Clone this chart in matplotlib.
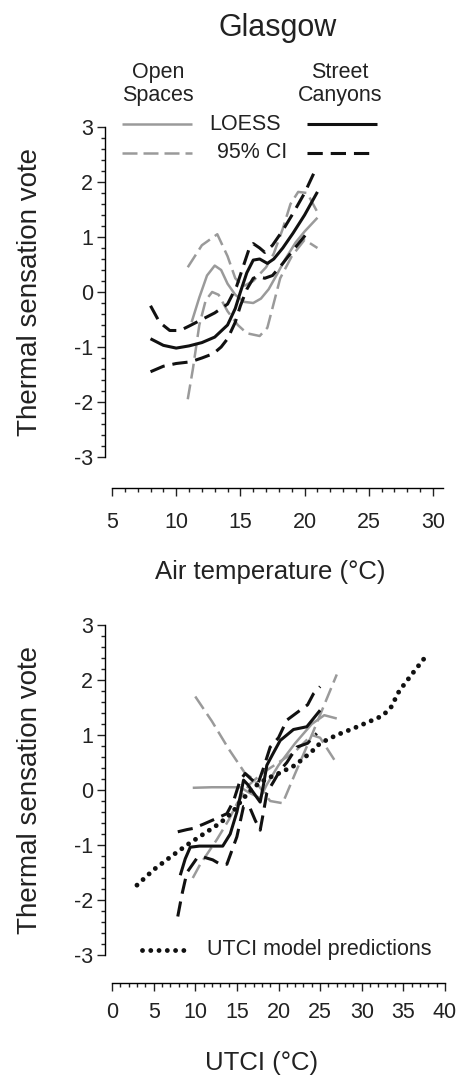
import matplotlib
matplotlib.use('Agg')
from matplotlib import pyplot as plt
from matplotlib.lines import Line2D
import numpy as np

plt.rcParams['font.family'] = ['Liberation Sans', 'DejaVu Sans']
plt.rcParams['axes.unicode_minus'] = False
plt.rcParams['text.color'] = '#222222'
plt.rcParams['axes.labelcolor'] = '#222222'
plt.rcParams['xtick.color'] = '#222222'
plt.rcParams['ytick.color'] = '#222222'

W, H = 457, 1079
GREY = '#9a9a9a'
BLACK = '#111111'

# ---- top panel: air temperature ----
ta_open_loess_x = [11.2, 11.8, 12.4, 13.0, 13.5, 14.0, 14.6, 15.3, 16.0, 16.6, 17.2, 17.8, 18.5, 19.3, 20.0, 21.0]
ta_open_loess_y = [-0.55, -0.1, 0.3, 0.48, 0.4, 0.15, -0.05, -0.18, -0.2, -0.12, 0.05, 0.3, 0.6, 0.9, 1.1, 1.35]
ta_open_up_x = [10.9, 12.0, 13.2, 14.0, 14.6, 15.2, 16.0, 17.0, 17.6, 18.3, 18.9, 19.5, 20.2, 21.0]
ta_open_up_y = [0.45, 0.85, 1.05, 0.65, 0.25, 0.1, 0.2, 0.45, 0.7, 1.15, 1.6, 1.82, 1.8, 1.45]
ta_open_lo_x = [10.9, 11.3, 11.8, 12.3, 12.8, 13.3, 14.0, 14.8, 15.5, 16.5, 17.1, 17.6, 18.1, 19.0, 20.0, 21.0]
ta_open_lo_y = [-1.95, -1.4, -0.6, -0.15, 0.0, -0.05, -0.35, -0.6, -0.75, -0.8, -0.65, -0.2, 0.25, 0.65, 0.95, 0.8]

ta_canyon_loess_x = [8.0, 9.0, 10.0, 11.0, 12.0, 13.0, 14.0, 14.6, 15.0, 15.5, 16.0, 16.5, 17.1, 17.6, 18.3, 19.1, 20.0, 21.0]
ta_canyon_loess_y = [-0.85, -0.97, -1.02, -0.98, -0.92, -0.82, -0.6, -0.3, 0.0, 0.35, 0.58, 0.6, 0.52, 0.6, 0.8, 1.07, 1.4, 1.82]
ta_canyon_up_x = [8.0, 8.7, 9.5, 10.3, 11.0, 12.0, 13.0, 14.0, 14.7, 15.2, 15.7, 16.0, 16.5, 16.9, 17.5, 18.3, 19.1, 20.0, 20.7]
ta_canyon_up_y = [-0.25, -0.55, -0.7, -0.7, -0.62, -0.5, -0.38, -0.22, 0.1, 0.45, 0.8, 0.88, 0.8, 0.72, 0.85, 1.12, 1.43, 1.8, 2.15]
ta_canyon_lo_x = [8.0, 9.0, 10.0, 11.1, 12.0, 12.9, 13.5, 14.0, 14.6, 15.0, 15.5, 16.0, 16.4, 16.9, 17.5, 18.3, 19.1, 20.4]
ta_canyon_lo_y = [-1.45, -1.35, -1.3, -1.27, -1.2, -1.12, -1.0, -0.85, -0.55, -0.25, 0.05, 0.25, 0.28, 0.25, 0.3, 0.52, 0.76, 1.13]

# ---- bottom panel: UTCI ----
ut_open_loess_x = [9.7, 12.0, 15.4, 16.5, 17.8, 18.6, 20.0, 22.0, 24.0, 25.5, 27.0]
ut_open_loess_y = [0.04, 0.05, 0.05, -0.05, -0.15, 0.1, 0.45, 0.85, 1.2, 1.36, 1.3]
ut_open_up_x = [10.0, 12.0, 14.0, 16.0, 17.0, 18.0, 19.0, 20.5, 22.0, 24.0, 25.5, 27.0]
ut_open_up_y = [1.7, 1.25, 0.75, 0.3, 0.2, 0.0, -0.2, -0.24, 0.3, 1.0, 1.55, 2.1]
ut_open_lo_x = [9.7, 10.6, 12.6, 14.0, 15.0, 16.5, 18.0, 20.0, 22.0, 24.0, 25.0, 26.7]
ut_open_lo_y = [-1.6, -1.35, -0.9, -0.55, -0.25, 0.1, 0.3, 0.5, 0.7, 1.0, 0.95, 0.55]

ut_canyon_loess_x = [8.2, 8.8, 9.4, 10.5, 12.0, 13.3, 14.2, 15.0, 15.5, 15.8, 16.3, 17.0, 17.8, 18.2, 18.6, 19.3, 20.2, 21.0, 21.8, 23.4, 24.2, 25.0]
ut_canyon_loess_y = [-1.55, -1.25, -1.04, -1.02, -1.02, -1.02, -0.8, -0.4, -0.05, 0.18, 0.1, -0.05, -0.22, 0.1, 0.45, 0.65, 0.9, 1.0, 1.1, 1.15, 1.3, 1.45]
ut_canyon_up_x = [7.9, 9.0, 9.7, 11.0, 12.5, 13.8, 14.6, 15.4, 16.0, 16.7, 17.5, 18.2, 19.0, 20.0, 21.0, 22.6, 23.5, 24.2, 25.0]
ut_canyon_up_y = [-0.76, -0.72, -0.7, -0.62, -0.52, -0.43, -0.2, 0.18, 0.3, 0.2, 0.1, 0.4, 0.78, 0.95, 1.27, 1.45, 1.55, 1.75, 1.88]
ut_canyon_lo_x = [7.9, 8.4, 9.0, 10.2, 11.0, 12.1, 13.0, 13.8, 14.4, 15.0, 15.8, 16.5, 17.2, 17.8, 18.2, 18.6, 19.4, 20.2, 21.0, 22.2, 23.5, 24.6]
ut_canyon_lo_y = [-2.3, -1.9, -1.5, -1.24, -1.22, -1.27, -1.35, -1.35, -1.1, -0.85, -0.3, -0.3, -0.55, -0.73, -0.4, -0.05, 0.15, 0.36, 0.5, 0.78, 0.85, 1.03]

utci_model_x = [3.0, 5.0, 7.0, 9.0, 11.0, 13.0, 14.5, 15.5, 17.0, 18.5, 20.0, 22.0, 24.0, 25.0, 27.0, 29.0, 31.0, 32.5, 33.5, 34.5, 36.0, 37.8]
utci_model_y = [-1.73, -1.45, -1.22, -1.0, -0.8, -0.6, -0.4, -0.2, 0.05, 0.2, 0.3, 0.45, 0.7, 0.85, 1.0, 1.12, 1.25, 1.35, 1.5, 1.8, 2.1, 2.45]

yticks = [-3, -2, -1, 0, 1, 2, 3]
xticks_ta = [5, 10, 15, 20, 25, 30]
xticks_ut = [0, 5, 10, 15, 20, 25, 30, 35, 40]

solid_grey = dict(color=GREY, lw=1.8, solid_capstyle='butt', solid_joinstyle='round')
dash_grey = dict(color=GREY, lw=1.8, linestyle=(0, (6, 2.4)), dash_joinstyle='round')
solid_black = dict(color=BLACK, lw=2.2, solid_capstyle='butt', solid_joinstyle='round')
dash_black = dict(color=BLACK, lw=2.2, linestyle=(0, (5, 2.6)), dash_joinstyle='round')
dotted = dict(color=BLACK, lw=3.5, linestyle=(0, (0.001, 1.7)), dash_capstyle='round')


def fx(px):
    return px / W


def fy(py):
    return 1 - py / H


def style_axis(ax, xticks, xbounds, label_pad):
    for s in ['top', 'right']:
        ax.spines[s].set_visible(False)
    ax.spines['left'].set_bounds(-3, 3)
    ax.spines['bottom'].set_bounds(*xbounds)
    ax.spines['left'].set_linewidth(1.0)
    ax.spines['bottom'].set_linewidth(1.0)
    ax.set_yticks(yticks)
    ax.set_yticks(np.arange(-3, 3.01, 0.2), minor=True)
    ax.set_xticks(xticks)
    ax.set_xticks(np.arange(xticks[0], xticks[-1] + 0.01, 1), minor=True)
    ax.tick_params(axis='y', which='major', length=6, width=1, pad=2.5, labelsize=15.5)
    ax.tick_params(axis='y', which='minor', length=3, width=1)
    ax.tick_params(axis='x', which='major', length=6, width=1, pad=label_pad, labelsize=15.5)
    ax.tick_params(axis='x', which='minor', length=3, width=1)


fig = plt.figure(figsize=(W / 100, H / 100), dpi=100)

# top axes: x=5 at px 112, 12.84 px/unit ; y=0 at py 292, 55 px/unit
ax1 = fig.add_axes([fx(105), fy(488), fx(450) - fx(105), (488 - 60) / H])
ax1.set_xlim(5 - 7 / 12.84, 5 + (450 - 112) / 12.84)
ax1.set_ylim((292 - 488) / 55, (292 - 60) / 55)
ax1.plot(ta_open_loess_x, ta_open_loess_y, **solid_grey)
ax1.plot(ta_open_up_x, ta_open_up_y, **dash_grey)
ax1.plot(ta_open_lo_x, ta_open_lo_y, **dash_grey)
ax1.plot(ta_canyon_loess_x, ta_canyon_loess_y, **solid_black)
ax1.plot(ta_canyon_up_x, ta_canyon_up_y, **dash_black)
ax1.plot(ta_canyon_lo_x, ta_canyon_lo_y, **dash_black)
style_axis(ax1, xticks_ta, (5, 30.75), 11)

# bottom axes: x=0 at px 112, 8.325 px/unit ; y=0 at py 790
ax2 = fig.add_axes([fx(105), fy(983), fx(450) - fx(105), (983 - 600) / H])
ax2.set_xlim(-7 / 8.325, (450 - 112) / 8.325)
ax2.set_ylim((790 - 983) / 55, (790 - 600) / 55)
ax2.plot(ut_open_loess_x, ut_open_loess_y, **solid_grey)
ax2.plot(ut_open_up_x, ut_open_up_y, **dash_grey)
ax2.plot(ut_open_lo_x, ut_open_lo_y, **dash_grey)
ax2.plot(ut_canyon_loess_x, ut_canyon_loess_y, **solid_black)
ax2.plot(ut_canyon_up_x, ut_canyon_up_y, **dash_black)
ax2.plot(ut_canyon_lo_x, ut_canyon_lo_y, **dash_black)
ax2.plot(utci_model_x, utci_model_y, **dotted)
style_axis(ax2, xticks_ut, (0, 40), 7.5)

# titles and labels
fig.text(fx(278), fy(28), 'Glasgow', ha='center', va='center', fontsize=22)
fig.text(fx(30), fy(292), 'Thermal sensation vote', rotation=90, ha='center', va='center', fontsize=20)
fig.text(fx(30), fy(790), 'Thermal sensation vote', rotation=90, ha='center', va='center', fontsize=20)
fig.text(fx(270), fy(572), 'Air temperature (°C)', ha='center', va='center', fontsize=18.5)
fig.text(fx(262), fy(1063), 'UTCI (°C)', ha='center', va='center', fontsize=18.5)

# legend, top panel
fig.text(fx(158), fy(84), 'Open\nSpaces', ha='center', va='center', fontsize=15.5, linespacing=1.1)
fig.text(fx(340), fy(84), 'Street\nCanyons', ha='center', va='center', fontsize=15.5, linespacing=1.1)
fig.text(fx(245), fy(124), 'LOESS', ha='center', va='center', fontsize=15.5)
fig.text(fx(252), fy(153), '95% CI', ha='center', va='center', fontsize=15.5)
fig.add_artist(Line2D([fx(122), fx(192)], [fy(124), fy(124)], **solid_grey))
fig.add_artist(Line2D([fx(122), fx(192)], [fy(153), fy(153)], **dash_grey))
fig.add_artist(Line2D([fx(307), fx(377)], [fy(124), fy(124)], **solid_black))
fig.add_artist(Line2D([fx(307), fx(375)], [fy(153), fy(153)], **dash_black))

# legend, bottom panel
fig.add_artist(Line2D([fx(142), fx(190)], [fy(950), fy(950)], **dotted))
fig.text(fx(207), fy(950), 'UTCI model predictions', ha='left', va='center', fontsize=15.5)

fig.savefig('out.png', dpi=100)
